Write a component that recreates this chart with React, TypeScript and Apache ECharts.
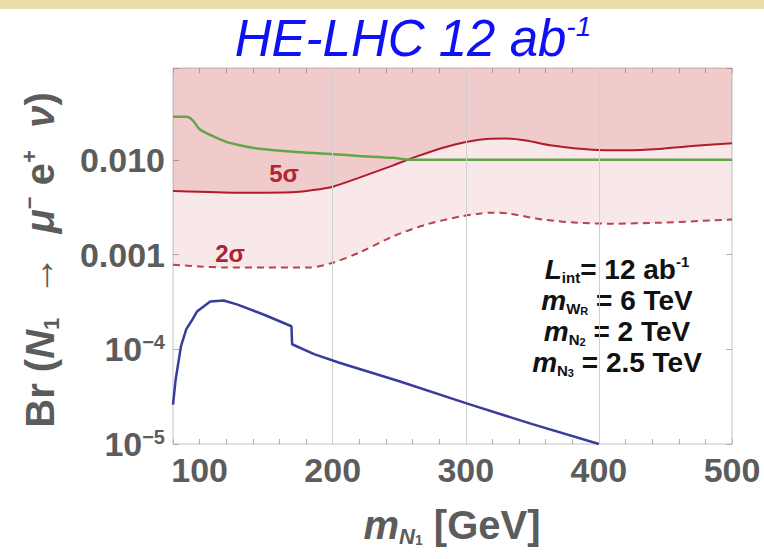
import React, { useEffect, useRef } from 'react';
import * as echarts from 'echarts';

// N1 mass grid points [GeV] and branching ratios for each curve
const greenMass = [80, 90, 95, 100, 110, 120, 130, 145, 170, 195, 220, 245, 260, 500];
const greenBr = [0.0285, 0.0285, 0.026, 0.021, 0.0178, 0.0155, 0.0143, 0.0131, 0.0122, 0.0116, 0.011, 0.0105, 0.01, 0.01];

const fiveSigmaMass = [80, 100, 125, 150, 175, 190, 200, 220, 245, 260, 285, 310, 330, 345, 365, 395, 420, 445, 470, 500];
const fiveSigmaBr = [0.0047, 0.0046, 0.0045, 0.0045, 0.0046, 0.0049, 0.0052, 0.0065, 0.0087, 0.0105, 0.0137, 0.0163, 0.0168, 0.016, 0.0142, 0.0128, 0.0126, 0.013, 0.014, 0.015];

const twoSigmaMass = [80, 100, 120, 150, 182, 200, 220, 245, 270, 295, 310, 320, 333, 358, 384, 410, 446, 475, 500];
const twoSigmaBr = [0.00078, 0.00075, 0.00073, 0.00073, 0.00073, 0.00082, 0.00105, 0.00155, 0.00207, 0.00251, 0.0027, 0.00277, 0.0027, 0.00234, 0.00217, 0.00212, 0.00217, 0.00226, 0.00234];

const blueMass = [80, 82, 86, 90, 94, 98, 108, 118, 128, 148, 169, 169.5, 186, 205, 250, 300, 350, 400];
const blueBr = [2.6e-5, 4.8e-5, 1.08e-4, 1.63e-4, 2.0e-4, 2.5e-4, 3.2e-4, 3.28e-4, 2.98e-4, 2.33e-4, 1.75e-4, 1.13e-4, 8.9e-5, 7.2e-5, 4.6e-5, 2.7e-5, 1.62e-5, 1.0e-5];

// axis ticks
const gridMasses = [200, 300, 400];
const yTickExponents = [-5, -4, -3, -2];
const yTickLabels = ['{p|10}{e|−5}', '{p|10}{e|−4}', '{p|0.001}', '{p|0.010}'];

const FONT = '"Liberation Sans", Arial, "DejaVu Sans", sans-serif';
const GRAY = '#5c5c5c';

const toPoints = (xs: number[], ys: number[]) => xs.map((x, i) => [x, Math.log10(ys[i])]);

export default function App() {
  const ref = useRef<HTMLDivElement>(null);

  useEffect(() => {
    if (!ref.current) return;
    const chart = echarts.init(ref.current, null, { renderer: 'svg' });

    const sideAxis = {
      axisLine: { show: false },
      axisLabel: { show: false },
      splitLine: { show: false },
    };

    chart.setOption({
      animation: false,
      backgroundColor: '#ffffff',
      grid: {
        left: 173,
        right: 32,
        top: 68,
        bottom: 115,
        show: true,
        borderColor: '#c4c4c4',
        borderWidth: 1,
        backgroundColor: 'transparent',
      },
      xAxis: [
        {
          type: 'value',
          min: 80,
          max: 500,
          interval: 20,
          axisLine: { show: false },
          axisTick: { inside: true, length: 5, lineStyle: { color: '#b0b0b0' } },
          splitLine: { show: false },
          axisLabel: {
            margin: 9,
            fontSize: 34,
            fontFamily: FONT,
            fontWeight: 'bold',
            color: GRAY,
            formatter: (v: number) => (v % 100 === 0 ? String(v) : ''),
          },
        },
        {
          type: 'value',
          position: 'top',
          min: 80,
          max: 500,
          interval: 20,
          axisTick: { inside: true, length: 5, lineStyle: { color: '#b0b0b0' } },
          ...sideAxis,
        },
      ],
      yAxis: [
        {
          type: 'value',
          min: -5,
          max: -1.03,
          interval: 1,
          axisLine: { show: false },
          axisTick: { inside: true, length: 6, lineStyle: { color: '#b0b0b0' } },
          splitLine: { show: false },
          axisLabel: {
            margin: 8,
            formatter: (v: number) => {
              const i = yTickExponents.indexOf(v);
              return i >= 0 ? yTickLabels[i] : '';
            },
            rich: {
              p: { fontSize: 34, lineHeight: 34, fontFamily: FONT, fontWeight: 'bold', color: GRAY },
              e: { fontSize: 20, lineHeight: 20, fontFamily: FONT, fontWeight: 'bold', color: GRAY, verticalAlign: 'top' },
            },
          },
        },
        {
          type: 'value',
          position: 'right',
          min: -5,
          max: -1.03,
          interval: 1,
          axisTick: { inside: true, length: 6, lineStyle: { color: '#b0b0b0' } },
          ...sideAxis,
        },
      ],
      series: [
        {
          type: 'line',
          data: [],
          z: 1,
          markLine: {
            silent: true,
            symbol: 'none',
            label: { show: false },
            lineStyle: { color: '#cfcfcf', width: 1, type: 'solid' },
            data: gridMasses.map((m) => ({ xAxis: m })),
          },
        },
        {
          name: '2σ',
          type: 'line',
          data: toPoints(twoSigmaMass, twoSigmaBr),
          showSymbol: false,
          smooth: 0.3,
          z: 2,
          lineStyle: { color: '#b8424e', width: 2, type: [7, 5] },
          areaStyle: { color: 'rgba(205,60,70,0.17)', origin: 'end' },
        },
        {
          name: '5σ',
          type: 'line',
          data: toPoints(fiveSigmaMass, fiveSigmaBr),
          showSymbol: false,
          smooth: 0.3,
          z: 3,
          lineStyle: { color: '#b01c2c', width: 2 },
          areaStyle: { color: 'rgba(205,60,70,0.25)', origin: 'end' },
        },
        {
          name: 'green',
          type: 'line',
          data: toPoints(greenMass, greenBr),
          showSymbol: false,
          smooth: 0.3,
          z: 4,
          lineStyle: { color: '#63a64a', width: 2.5 },
        },
        {
          name: 'blue',
          type: 'line',
          data: toPoints(blueMass, blueBr),
          showSymbol: false,
          z: 5,
          lineStyle: { color: '#3a3c9c', width: 2.5 },
        },
      ],
      graphic: [
        { type: 'rect', shape: { x: 0, y: 0, width: 764, height: 9 }, style: { fill: '#e9dfaa' } },
        {
          type: 'text',
          x: 413,
          y: 38,
          style: {
            text: '{t|HE-LHC 12 ab}{s|-1}',
            align: 'center',
            verticalAlign: 'middle',
            rich: {
              t: { fontSize: 51, lineHeight: 52, fontFamily: FONT, fontStyle: 'italic', fill: '#1010f5' },
              s: { fontSize: 28, lineHeight: 28, fontFamily: FONT, fontStyle: 'italic', fill: '#1010f5', verticalAlign: 'top' },
            },
          },
        },
        {
          type: 'text',
          x: 40,
          y: 260,
          rotation: Math.PI / 2,
          style: {
            text: '{b|Br (}{i|N}{sub|1}{b|  →  }{i|μ}{sup|−}{b| }{b|e}{sup|+}{b|  }{i|ν}{b|)}',
            align: 'center',
            verticalAlign: 'middle',
            rich: {
              b: { fontSize: 40, lineHeight: 44, fontFamily: FONT, fontWeight: 'bold', fill: GRAY },
              i: { fontSize: 40, lineHeight: 44, fontFamily: FONT, fontWeight: 'bold', fontStyle: 'italic', fill: GRAY },
              sub: { fontSize: 22, lineHeight: 22, fontFamily: FONT, fontWeight: 'bold', fill: GRAY, verticalAlign: 'bottom' },
              sup: { fontSize: 22, lineHeight: 22, fontFamily: FONT, fontWeight: 'bold', fill: GRAY, verticalAlign: 'top' },
            },
          },
        },
        {
          type: 'text',
          x: 452,
          y: 525,
          style: {
            text: '{i|m}{sub|N}{ss|1}{b| [GeV]}',
            align: 'center',
            verticalAlign: 'middle',
            rich: {
              b: { fontSize: 40, lineHeight: 44, fontFamily: FONT, fontWeight: 'bold', fill: GRAY },
              i: { fontSize: 40, lineHeight: 44, fontFamily: FONT, fontWeight: 'bold', fontStyle: 'italic', fill: GRAY },
              sub: { fontSize: 22, lineHeight: 22, fontFamily: FONT, fontWeight: 'bold', fontStyle: 'italic', fill: GRAY, verticalAlign: 'bottom' },
              ss: { fontSize: 14, lineHeight: 14, fontFamily: FONT, fontWeight: 'bold', fill: GRAY, verticalAlign: 'bottom' },
            },
          },
        },
        {
          type: 'text',
          x: 284,
          y: 173,
          style: { text: '5σ', align: 'center', verticalAlign: 'middle', fontSize: 24, fontWeight: 'bold', fontFamily: FONT, fill: '#a8202c' },
        },
        {
          type: 'text',
          x: 230,
          y: 253,
          style: { text: '2σ', align: 'center', verticalAlign: 'middle', fontSize: 24, fontWeight: 'bold', fontFamily: FONT, fill: '#a8202c' },
        },
        {
          type: 'text',
          x: 617,
          y: 316,
          style: {
            text: [
              '{i|L}{s|int}{b|= 12 ab}{sup|-1}',
              '{i|m}{s|W}{ss|R}{b| = 6 TeV}',
              '{i|m}{s|N}{ss|2}{b| = 2 TeV}',
              '{i|m}{s|N}{ss|3}{b| = 2.5 TeV}',
            ].join('\n'),
            align: 'center',
            verticalAlign: 'middle',
            rich: {
              b: { fontSize: 28, lineHeight: 31, fontFamily: FONT, fontWeight: 'bold', fill: '#111' },
              i: { fontSize: 28, lineHeight: 31, fontFamily: FONT, fontWeight: 'bold', fontStyle: 'italic', fill: '#111' },
              s: { fontSize: 15, lineHeight: 15, fontFamily: FONT, fontWeight: 'bold', fill: '#111', verticalAlign: 'bottom' },
              ss: { fontSize: 11, lineHeight: 11, fontFamily: FONT, fontWeight: 'bold', fill: '#111', verticalAlign: 'bottom' },
              sup: { fontSize: 15, lineHeight: 15, fontFamily: FONT, fontWeight: 'bold', fill: '#111', verticalAlign: 'top' },
            },
          },
        },
      ],
    });

    return () => chart.dispose();
  }, []);

  return <div ref={ref} style={{ position: 'fixed', left: 0, top: 0, width: 764, height: 559 }} />;
}
